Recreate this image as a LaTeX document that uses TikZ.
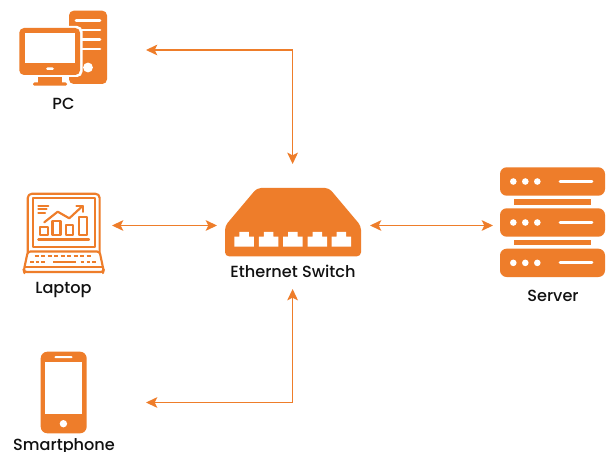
\documentclass[tikz,border=0pt]{standalone}
\usepackage{fontspec}
\setmainfont{Poppins}[UprightFont=* Medium]
\usetikzlibrary{arrows.meta}
\definecolor{org}{HTML}{EE7D2A}
\definecolor{ink}{HTML}{111111}
\tikzset{
  x=0.75pt,y=-0.75pt,
  label text/.style={font=\fontsize{12.1}{13}\selectfont,text=ink,inner sep=0pt,anchor=center},
  link/.style={draw=org,line width=1pt,{Stealth[length=8.5pt,width=8pt,inset=2pt]}-{Stealth[length=8.5pt,width=8pt,inset=2pt]}},
  solid org/.style={fill=org,draw=none},
  hole/.style={fill=white,draw=none},
  thin org/.style={draw=org,line width=1.6pt,line cap=round,line join=round},
  white line/.style={draw=white,line width=2pt,line cap=round},
}
\begin{document}
\begin{tikzpicture}
\useasboundingbox (0,0) rectangle (606,452);
\fill[white] (0,0) rectangle (606,452);
% --- PC
\fill[solid org,rounded corners=3.5pt] (69,10.7) rectangle (107,84);
\foreach \y/\xa in {20.7/76,30/82,39.3/82,49/82}{\draw[white line] (\xa,\y) -- (100,\y);}
\fill[hole] (88,67.5) circle[radius=4.9];
\fill[hole,rounded corners=4pt] (17.5,26) rectangle (82.5,77);
\fill[solid org,rounded corners=3.5pt] (19.3,28) rectangle (80,75);
\fill[hole] (25.3,33.3) rectangle (74.8,63.3);
\fill[hole,rounded corners=1pt] (46,67.5) rectangle (54,70);
\fill[solid org] (38,77) rectangle (62,83.5);
\fill[solid org,rounded corners=1pt] (33,82.5) rectangle (67,85.7);
% --- Laptop
\draw[thin org,rounded corners=3pt] (27.8,253) -- (27.8,193.8) -- (99.6,193.8) -- (99.6,253);
\draw[thin org] (32.7,198) rectangle (94.7,246.7);
\draw[thin org,rounded corners=2pt] (27.8,251.5) -- (99.6,251.5) -- (103.6,270.5) -- (103.2,272) -- (24.2,272) -- (23.8,270.5) -- cycle;
\draw[thin org] (25,267) -- (102.5,267);
\foreach \x in {36.5,43,49.5,56,62.5,69,75.5,82,88.5}{\draw[org,line width=1.5pt] (\x-2,256.2) -- (\x+2,256.2);}
\foreach \x in {32,37.5,43,82.5,88.5,94}{\draw[org,line width=1.5pt] (\x-1.8,261.5) -- (\x+1.8,261.5);}
\draw[org,line width=1.5pt] (53,261.5) -- (76,261.5);
\draw[thin org] (40.3,227) rectangle (48.3,235);
\draw[thin org] (52.5,221.3) rectangle (60.5,235);
\draw[thin org] (66,225.3) rectangle (73.3,235);
\draw[thin org] (79.2,217) rectangle (86.7,235);
\draw[thin org] (38.3,239.5) -- (89,239.5);
\draw[thin org] (44.3,222.3) -- (57.7,211.7) -- (69.3,218.3) -- (82.7,205.9);
\draw[thin org] (76.5,205.7) -- (83.2,205.7) -- (83.2,211.8);
\draw[thin org] (38.3,205.7) -- (48.3,205.7) (38.3,209.3) -- (46.5,209.3) (38.3,213) -- (45,213);
% --- Switch
\fill[solid org,rounded corners=3pt] (293,188) -- (329,188) -- (361,226) -- (361,256.3) -- (225,256.3) -- (225,226) -- (257,188) -- cycle;
\foreach \x in {234.3,258.8,283.2,307.5,331.7}{
  \fill[hole] (\x,246.7) -- (\x,236.7) -- (\x+5,236.7) -- (\x+5,231.8) -- (\x+14.5,231.8) -- (\x+14.5,236.7) -- (\x+19.5,236.7) -- (\x+19.5,246.7) -- cycle;
}
% --- Server
\foreach \ya/\yb in {167.3/195.7,208.3/236.7,248.7/277}{
  \fill[solid org,rounded corners=5pt] (500,\ya) rectangle (605,\yb);
  \pgfmathsetmacro{\ym}{(\ya+\yb)/2}
  \foreach \x in {513.3,525.3,537.3}{\fill[hole] (\x,\ym) circle[radius=3.3];}
  \draw[white line,line width=2.2pt] (560,\ym) -- (592,\ym);
}
\fill[solid org] (514,199.3) rectangle (591,204.7);
\fill[solid org] (514,240) rectangle (591,245.3);
% --- Smartphone
\fill[solid org,rounded corners=5pt] (40.7,351.7) rectangle (86.7,433.3);
\fill[hole] (45,361.7) rectangle (82.3,414);
\fill[hole,rounded corners=1pt] (54.3,356) rectangle (72.7,358.2);
\fill[hole] (63.4,423.7) circle[radius=3.7];
% --- Labels
\node[label text] (pc) at (63.5,104) {PC};
\node[label text] (laptop) at (63.5,289.7) {Laptop};
\node[label text] (switch) at (293,271.7) {Ethernet Switch};
\node[label text] (server) at (553,295.8) {Server};
\node[label text] (phone) at (64,446.8) {Smartphone};
% --- Connector ends
\coordinate (pcend) at (146,50);
\coordinate (swtop) at (292.6,164);
\coordinate (lapend) at (112,225.5);
\coordinate (swleft) at (217,225.5);
\coordinate (swright) at (370,225.5);
\coordinate (srvend) at (493,225.5);
\coordinate (phend) at (146,402.5);
\coordinate (swbot) at (292.6,289);
\draw[link] (pcend) -| (swtop);
\draw[link] (lapend) -- (swleft);
\draw[link] (swright) -- (srvend);
\draw[link] (phend) -| (swbot);
\end{tikzpicture}
\end{document}
